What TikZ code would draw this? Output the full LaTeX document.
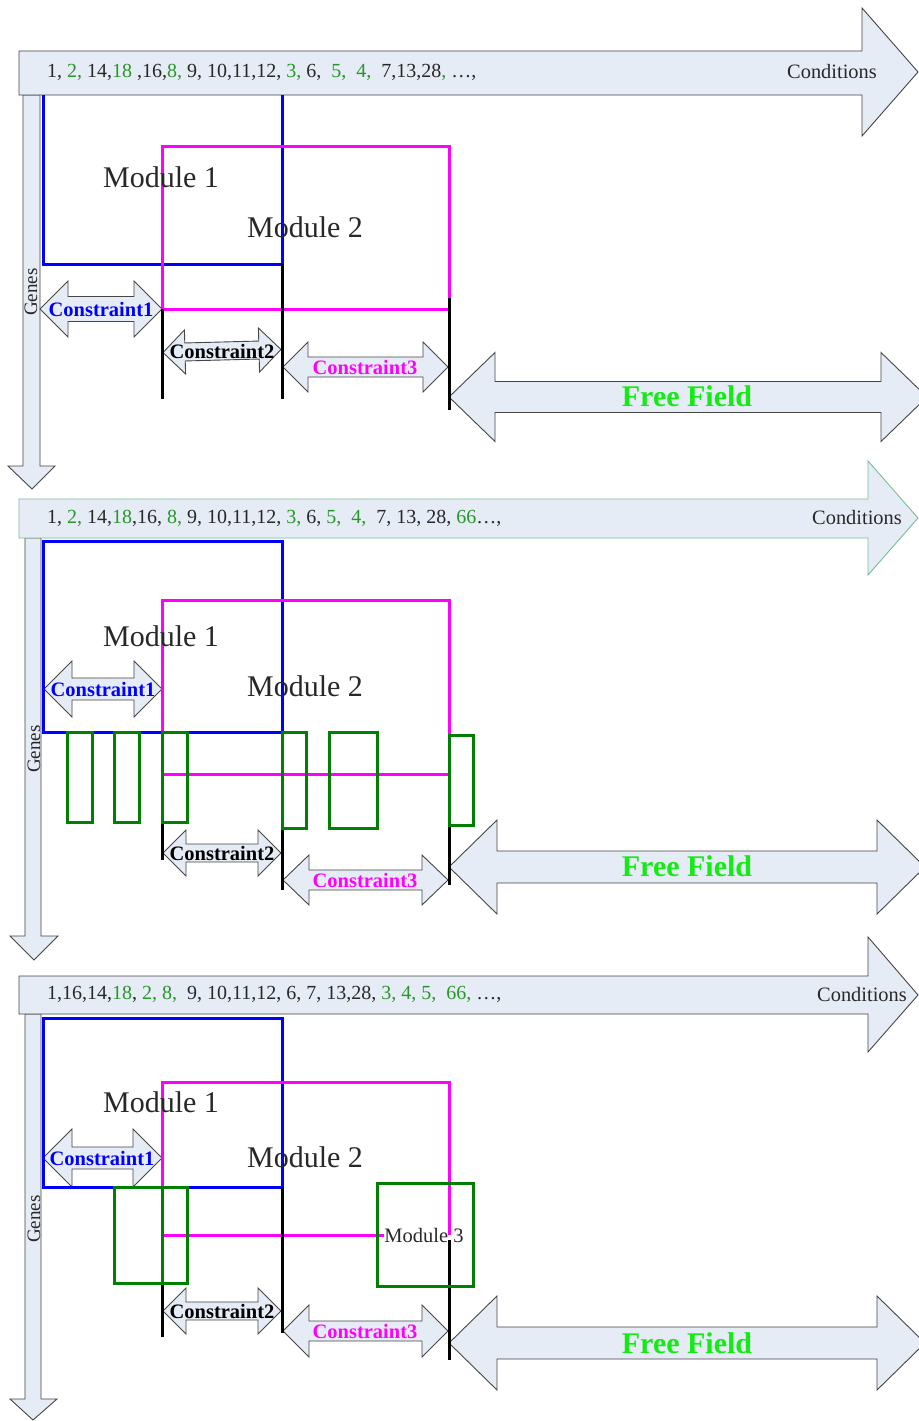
\documentclass[tikz,border=0pt]{standalone}
\usepackage{fontspec}
\setmainfont{Liberation Serif}
\definecolor{afill}{RGB}{230,236,246}
\definecolor{aline}{RGB}{70,70,70}
\definecolor{numgreen}{RGB}{40,150,40}
\definecolor{boxgreen}{RGB}{0,128,0}
\definecolor{ffgreen}{RGB}{20,235,20}
\definecolor{condgreen}{RGB}{120,190,150}
\definecolor{txtgray}{RGB}{40,40,40}
\definecolor{mymag}{RGB}{255,0,255}
\definecolor{myblue}{RGB}{0,0,255}
\newcommand{\grn}[1]{\textcolor{numgreen}{#1}}
% x1 x2 y headlen headhalf shafthalf
\newcommand{\dblarr}[6]{%
  \draw[arr] (#1,#3) -- (#1+#4,#3-#5) -- (#1+#4,#3-#6) -- (#2-#4,#3-#6) -- (#2-#4,#3-#5) -- (#2,#3)
    -- (#2-#4,#3+#5) -- (#2-#4,#3+#6) -- (#1+#4,#3+#6) -- (#1+#4,#3+#5) -- cycle;}
\tikzset{
  arr/.style={fill=afill, draw=aline, line width=0.9pt, line join=miter},
  blueln/.style={draw=myblue, line width=3pt, line join=miter},
  magln/.style={draw=mymag, line width=3pt, line join=miter},
  blkln/.style={draw=black, line width=3pt},
  grnbox/.style={draw=boxgreen, line width=3pt, line join=miter},
  numtxt/.style={font=\fontsize{20}{22}\selectfont, anchor=west, inner sep=0pt, text=txtgray},
  condtxt/.style={font=\fontsize{20.4}{22}\selectfont, inner sep=0pt, text=txtgray},
  modtxt/.style={font=\fontsize{30}{33}\selectfont, inner sep=0pt, text=txtgray},
  mod3txt/.style={font=\fontsize{20.5}{22}\selectfont, inner sep=0pt, text=txtgray},
  ctxt/.style={font=\bfseries\fontsize{20.5}{22}\selectfont, inner sep=0pt},
  fftxt/.style={font=\bfseries\fontsize{30}{32}\selectfont, text=ffgreen, inner sep=0pt},
  genestxt/.style={font=\fontsize{19}{21}\selectfont, rotate=90, text=txtgray, inner sep=0pt},
}
\begin{document}
\begin{tikzpicture}[x=1pt,y=-1pt]
\useasboundingbox (0,0) rectangle (918,1421);
\fill[white] (0,0) rectangle (918,1421);

% ================= PANEL 1 =================
\draw[arr] (23,95) -- (40,95) -- (40,466) -- (55,466) -- (32,489) -- (8,466) -- (23,466) -- cycle;
\draw[arr] (19,51) -- (862,51) -- (862,8) -- (918,72) -- (862,136) -- (862,95) -- (19,95) -- cycle;
\dblarr{40}{162}{309}{28}{28}{12.5}
\begin{scope}[rotate around={1.5:(222,351)}]
\dblarr{163}{281}{351}{22}{22}{9}
\node[ctxt, text=black] (c2a) at (222,351) {Constraint2};
\end{scope}
\dblarr{283}{448}{367}{25}{25}{10}
\dblarr{449}{927}{397}{46}{44.5}{15.5}
\draw[blueln] (43,95) -- (43,264) -- (282,264) -- (282,95);
\draw[magln] (162,309) -- (162,146) -- (449,146) -- (449,298);
\draw[magln] (162,309) -- (449,309);
\draw[blkln] (162,309) -- (162,399);
\draw[blkln] (282,264) -- (282,399);
\draw[blkln] (449,298) -- (449,410);
\node[numtxt] (n1) at (47,72) {1, \grn{2,} 14,\grn{18} ,16,\grn{8,} 9, 10,11,12, \grn{3,} 6, \ \grn{5,} \ \grn{4,} \ 7,13,28\grn{,} …,};
\node[condtxt] (cd1) at (832,72) {Conditions};
\node[genestxt] (g1) at (31,292) {Genes};
\node[modtxt] (m1a) at (161,177) {Module 1};
\node[modtxt] (m2a) at (305,227) {Module 2};
\node[ctxt, text=myblue] (c1a) at (101,309) {Constraint1};
\node[ctxt, text=mymag] (c3a) at (365,367) {Constraint3};
\node[fftxt] (ffa) at (687,396) {Free Field};

% ================= PANEL 2 =================
\draw[arr] (25,538) -- (41,538) -- (41,936) -- (58,936) -- (34,960) -- (10,936) -- (25,936) -- cycle;
\draw[arr, draw=condgreen] (19,499) -- (868,499) -- (868,461) -- (918,518) -- (868,575) -- (868,538) -- (19,538) -- cycle;
\dblarr{44}{162}{689}{28}{28}{11}
\dblarr{163}{281}{853}{23}{23}{9}
\dblarr{283}{448}{880}{26}{25}{10}
\dblarr{449}{925}{867}{48}{47}{16}
\draw[blueln] (43,541) rectangle (282,732);
\draw[magln] (162,600) rectangle (449,774);
\draw[blkln] (162,822) -- (162,860);
\draw[blkln] (282,828) -- (282,890);
\draw[blkln] (449,825) -- (449,885);
\draw[grnbox] (67,732) rectangle (92,822);
\draw[grnbox] (114,732) rectangle (139,822);
\draw[grnbox] (162,732) rectangle (187,822);
\draw[grnbox] (282,732) rectangle (306,828);
\draw[grnbox] (329,732) rectangle (377,828);
\draw[grnbox] (449,735) rectangle (473,825);
\node[numtxt] (n2) at (47,518) {1, \grn{2,} 14,\grn{18},16, \grn{8,} 9, 10,11,12, \grn{3,} 6, \grn{5,} \ \grn{4,} \ 7, 13, 28, \grn{66}…,};
\node[condtxt] (cd2) at (857,518) {Conditions};
\node[genestxt] (g2) at (34,749) {Genes};
\node[modtxt] (m1b) at (161,636) {Module 1};
\node[modtxt] (m2b) at (305,686) {Module 2};
\node[ctxt, text=myblue] (c1b) at (103,689) {Constraint1};
\node[ctxt, text=black] (c2b) at (222,853) {Constraint2};
\node[ctxt, text=mymag] (c3b) at (365,880) {Constraint3};
\node[fftxt] (ffb) at (687,866) {Free Field};

% ================= PANEL 3 =================
\draw[arr] (25,1014) -- (41,1014) -- (41,1399) -- (57,1399) -- (33,1420) -- (10,1399) -- (25,1399) -- cycle;
\draw[arr] (19,976) -- (868,976) -- (868,937) -- (918,995) -- (868,1052) -- (868,1014) -- (19,1014) -- cycle;
\dblarr{43}{162}{1158}{29}{29}{11}
\dblarr{163}{281}{1311}{23}{23}{9}
\dblarr{283}{448}{1331}{26}{26}{10}
\dblarr{449}{925}{1343}{48}{47}{16}
\draw[blueln] (43,1018) rectangle (282,1187);
\draw[magln] (162,1235) -- (162,1082) -- (449,1082) -- (449,1235);
\draw[magln] (162,1235) -- (384,1235);
\draw[blkln] (162,1283) -- (162,1337);
\draw[blkln] (282,1187) -- (282,1333);
\draw[blkln] (449,1240) -- (449,1360);
\draw[grnbox] (114,1187) rectangle (187,1283);
\draw[grnbox] (162,1187) -- (162,1283);
\draw[grnbox] (377,1183) rectangle (473,1286);
\node[numtxt] (n3) at (47,994) {1,16,14,\grn{18}, \grn{2, 8,} \ 9, 10,11,12, 6, 7, 13,28, \grn{3, 4, 5,} \ \grn{66,} …,};
\node[condtxt] (cd3) at (862,995) {Conditions};
\node[genestxt] (g3) at (34,1219) {Genes};
\node[modtxt] (m1c) at (161,1102) {Module 1};
\node[modtxt] (m2c) at (305,1157) {Module 2};
\node[mod3txt] (m3c) at (424,1235) {Module 3};
\node[ctxt, text=myblue] (c1c) at (102,1158) {Constraint1};
\node[ctxt, text=black] (c2c) at (222,1311) {Constraint2};
\node[ctxt, text=mymag] (c3c) at (365,1331) {Constraint3};
\node[fftxt] (ffc) at (687,1343) {Free Field};
\end{tikzpicture}
\end{document}
